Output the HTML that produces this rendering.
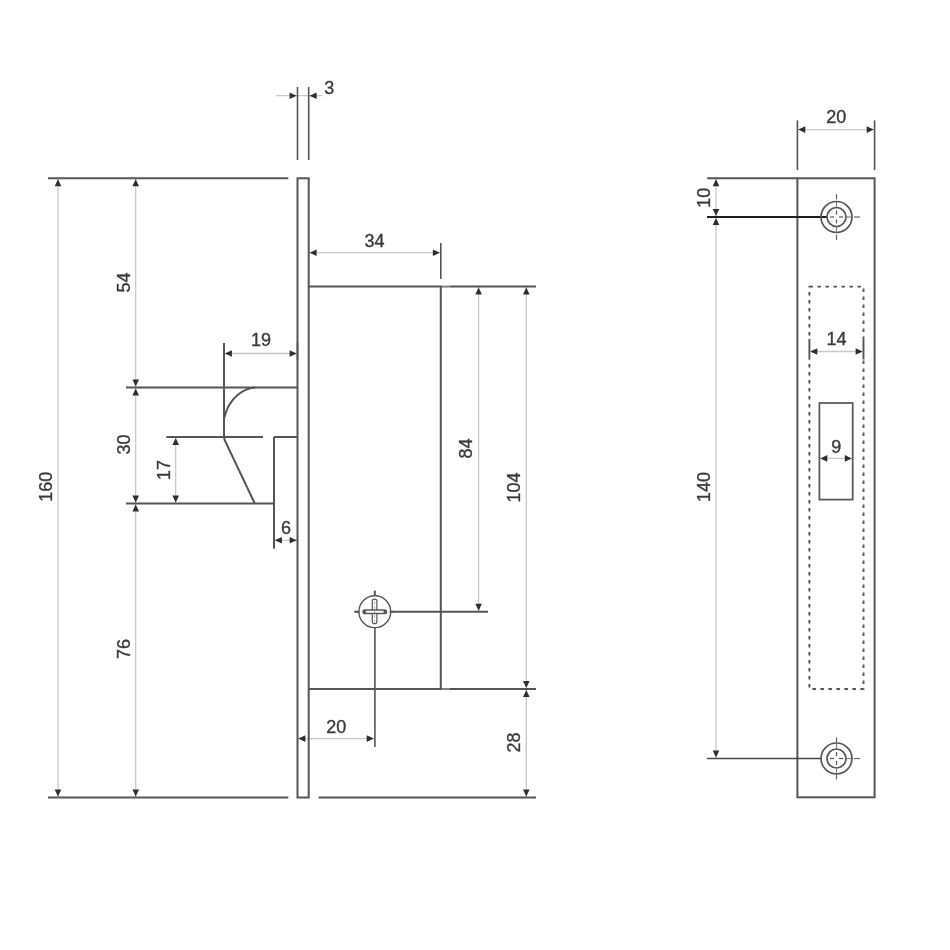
<!DOCTYPE html>
<html><head><meta charset="utf-8"><title>Lock drawing</title>
<style>
html,body{margin:0;padding:0;background:#fff;}
svg{display:block;filter:grayscale(100%);}
text{font-family:"Liberation Sans",sans-serif;fill:#3a3a3a;stroke:#3a3a3a;stroke-width:0.35px;}
</style></head>
<body>
<svg width="950" height="950" viewBox="0 0 950 950">
<rect width="950" height="950" fill="#fff"/>
<line x1="276" y1="95.7" x2="322" y2="95.7" stroke="#c8c8c8" stroke-width="1.3" />
<line x1="58" y1="178.3" x2="58" y2="797.5" stroke="#c8c8c8" stroke-width="1.3" />
<line x1="135.7" y1="178.3" x2="135.7" y2="797.5" stroke="#c8c8c8" stroke-width="1.3" />
<line x1="175.7" y1="437" x2="175.7" y2="503.5" stroke="#c8c8c8" stroke-width="1.3" />
<line x1="224" y1="353.5" x2="297.5" y2="353.5" stroke="#c8c8c8" stroke-width="1.3" />
<line x1="274" y1="540.3" x2="297.5" y2="540.3" stroke="#c8c8c8" stroke-width="1.3" />
<line x1="308.7" y1="252.7" x2="440.8" y2="252.7" stroke="#c8c8c8" stroke-width="1.3" />
<line x1="478.6" y1="286.6" x2="478.6" y2="611.7" stroke="#c8c8c8" stroke-width="1.3" />
<line x1="526.3" y1="286.6" x2="526.3" y2="797.5" stroke="#c8c8c8" stroke-width="1.3" />
<line x1="297.5" y1="738.6" x2="374.6" y2="738.6" stroke="#c8c8c8" stroke-width="1.3" />
<line x1="797.4" y1="129.6" x2="874.6" y2="129.6" stroke="#c8c8c8" stroke-width="1.3" />
<line x1="716" y1="178.3" x2="716" y2="758.5" stroke="#c8c8c8" stroke-width="1.3" />
<line x1="809.4" y1="351.5" x2="863.5" y2="351.5" stroke="#c8c8c8" stroke-width="1.3" />
<line x1="819.4" y1="458.4" x2="852.7" y2="458.4" stroke="#c8c8c8" stroke-width="1.3" />
<line x1="297.5" y1="87" x2="297.5" y2="160" stroke="#555555" stroke-width="1.6" />
<line x1="308.7" y1="87" x2="308.7" y2="160" stroke="#555555" stroke-width="1.6" />
<polygon points="296.60,95.70 289.60,92.40 289.60,99.00" fill="#2e2e2e"/>
<polygon points="309.60,95.70 316.60,92.40 316.60,99.00" fill="#2e2e2e"/>
<text x="329.30" y="94.24" text-anchor="middle" font-size="18.0">3</text>
<rect x="297.5" y="178.3" width="11.199999999999989" height="619.2" fill="none" stroke="#555555" stroke-width="2.0"/>
<line x1="48" y1="178.3" x2="288.3" y2="178.3" stroke="#555555" stroke-width="2.0" />
<line x1="126" y1="387.5" x2="297.5" y2="387.5" stroke="#555555" stroke-width="2.0" />
<line x1="166.3" y1="437" x2="263" y2="437" stroke="#555555" stroke-width="2.0" />
<line x1="274" y1="437" x2="297.5" y2="437" stroke="#555555" stroke-width="2.0" />
<line x1="126" y1="503.5" x2="274" y2="503.5" stroke="#555555" stroke-width="2.0" />
<line x1="48" y1="797.5" x2="288.3" y2="797.5" stroke="#555555" stroke-width="2.0" />
<polygon points="58.00,179.20 54.70,186.20 61.30,186.20" fill="#2e2e2e"/>
<polygon points="58.00,796.60 54.70,789.60 61.30,789.60" fill="#2e2e2e"/>
<text transform="translate(51.94,486.80) rotate(-90)" text-anchor="middle" font-size="18.0">160</text>
<polygon points="135.70,179.20 132.40,186.20 139.00,186.20" fill="#2e2e2e"/>
<polygon points="135.70,386.60 132.40,379.60 139.00,379.60" fill="#2e2e2e"/>
<polygon points="135.70,388.40 132.40,395.40 139.00,395.40" fill="#2e2e2e"/>
<polygon points="135.70,502.60 132.40,495.60 139.00,495.60" fill="#2e2e2e"/>
<polygon points="135.70,504.40 132.40,511.40 139.00,511.40" fill="#2e2e2e"/>
<polygon points="135.70,796.60 132.40,789.60 139.00,789.60" fill="#2e2e2e"/>
<text transform="translate(129.74,282.50) rotate(-90)" text-anchor="middle" font-size="18.0">54</text>
<text transform="translate(129.94,444.50) rotate(-90)" text-anchor="middle" font-size="18.0">30</text>
<text transform="translate(129.84,649.00) rotate(-90)" text-anchor="middle" font-size="18.0">76</text>
<polygon points="175.70,437.90 172.40,444.90 179.00,444.90" fill="#2e2e2e"/>
<polygon points="175.70,502.60 172.40,495.60 179.00,495.60" fill="#2e2e2e"/>
<text transform="translate(170.44,470.00) rotate(-90)" text-anchor="middle" font-size="18.0">17</text>
<line x1="224" y1="343" x2="224" y2="437" stroke="#555555" stroke-width="2.0" />
<path d="M254.8,387.5 C244,388.5 229,397 224.3,418" fill="none" stroke="#555555" stroke-width="2.0"/>
<path d="M224,437 L224.6,440 L254.8,503.5" fill="none" stroke="#555555" stroke-width="2.0"/>
<line x1="274" y1="437" x2="274" y2="548.7" stroke="#555555" stroke-width="2.0" />
<polygon points="224.90,353.50 231.90,350.20 231.90,356.80" fill="#2e2e2e"/>
<polygon points="296.60,353.50 289.60,350.20 289.60,356.80" fill="#2e2e2e"/>
<line x1="297.5" y1="343" x2="297.5" y2="360" stroke="#555555" stroke-width="1.6" />
<text x="261.00" y="346.04" text-anchor="middle" font-size="18.0">19</text>
<polygon points="274.90,540.30 281.90,537.00 281.90,543.60" fill="#2e2e2e"/>
<polygon points="296.60,540.30 289.60,537.00 289.60,543.60" fill="#2e2e2e"/>
<text x="286.00" y="534.44" text-anchor="middle" font-size="18.0">6</text>
<line x1="308.7" y1="286.6" x2="441.8" y2="286.6" stroke="#555555" stroke-width="2.0" />
<line x1="441.8" y1="286.6" x2="449.5" y2="286.6" stroke="#7c7c7c" stroke-width="1.9" />
<line x1="449.5" y1="286.6" x2="536" y2="286.6" stroke="#555555" stroke-width="2.0" />
<line x1="308.7" y1="689" x2="441.8" y2="689" stroke="#555555" stroke-width="2.0" />
<line x1="441.8" y1="689" x2="449.5" y2="689" stroke="#7c7c7c" stroke-width="1.9" />
<line x1="449.5" y1="689" x2="536" y2="689" stroke="#555555" stroke-width="2.0" />
<line x1="440.8" y1="286.6" x2="440.8" y2="689" stroke="#555555" stroke-width="2.0" />
<line x1="440.8" y1="243" x2="440.8" y2="279" stroke="#555555" stroke-width="1.6" />
<polygon points="309.60,252.70 316.60,249.40 316.60,256.00" fill="#2e2e2e"/>
<polygon points="439.90,252.70 432.90,249.40 432.90,256.00" fill="#2e2e2e"/>
<text x="374.50" y="247.44" text-anchor="middle" font-size="18.0">34</text>
<polygon points="478.60,287.50 475.30,294.50 481.90,294.50" fill="#2e2e2e"/>
<polygon points="478.60,610.80 475.30,603.80 481.90,603.80" fill="#2e2e2e"/>
<text transform="translate(472.44,448.50) rotate(-90)" text-anchor="middle" font-size="18.0">84</text>
<polygon points="526.30,287.50 523.00,294.50 529.60,294.50" fill="#2e2e2e"/>
<polygon points="526.30,688.10 523.00,681.10 529.60,681.10" fill="#2e2e2e"/>
<polygon points="526.30,689.90 523.00,696.90 529.60,696.90" fill="#2e2e2e"/>
<polygon points="526.30,796.60 523.00,789.60 529.60,789.60" fill="#2e2e2e"/>
<text transform="translate(519.84,487.40) rotate(-90)" text-anchor="middle" font-size="18.0">104</text>
<text transform="translate(520.44,742.50) rotate(-90)" text-anchor="middle" font-size="18.0">28</text>
<line x1="318.6" y1="797.5" x2="536" y2="797.5" stroke="#555555" stroke-width="2.0" />
<line x1="354.5" y1="611.7" x2="488" y2="611.7" stroke="#555555" stroke-width="2.0" />
<line x1="374.90000000000003" y1="590.7" x2="374.90000000000003" y2="747" stroke="#555555" stroke-width="1.6" />
<circle cx="374.8" cy="611.7" r="15.9" fill="#fff" stroke="#555555" stroke-width="1.4"/>
<rect x="372.3" y="599.1" width="4.6" height="24.6" rx="2.2" fill="#fff" stroke="#555555" stroke-width="1.2"/>
<rect x="363.1" y="609.9000000000001" width="23.4" height="3.6" rx="1.8" fill="#fff" stroke="#555555" stroke-width="1.5"/>
<circle cx="364.8" cy="611.7" r="1.4" fill="#555555"/>
<circle cx="384.8" cy="611.7" r="1.4" fill="#555555"/>
<line x1="374.6" y1="601.7" x2="374.6" y2="621.7" stroke="#888" stroke-width="0.7" stroke-dasharray="2.5 2"/>
<line x1="354.6" y1="611.7" x2="359.6" y2="611.7" stroke="#555555" stroke-width="1.6" />
<line x1="389.6" y1="611.7" x2="394.6" y2="611.7" stroke="#555555" stroke-width="1.6" />
<line x1="374.6" y1="590.7" x2="374.6" y2="596" stroke="#555555" stroke-width="1.6" />
<polygon points="298.40,738.60 305.40,735.30 305.40,741.90" fill="#2e2e2e"/>
<polygon points="373.70,738.60 366.70,735.30 366.70,741.90" fill="#2e2e2e"/>
<text x="336.20" y="732.84" text-anchor="middle" font-size="18.0">20</text>
<rect x="797.4" y="178.3" width="77.20000000000005" height="619.0" fill="none" stroke="#555555" stroke-width="2.0"/>
<line x1="707.3" y1="178.3" x2="797.4" y2="178.3" stroke="#555555" stroke-width="2.0" />
<line x1="797.4" y1="120.4" x2="797.4" y2="170" stroke="#555555" stroke-width="1.6" />
<line x1="874.6" y1="120.4" x2="874.6" y2="170" stroke="#555555" stroke-width="1.6" />
<polygon points="798.30,129.60 805.30,126.30 805.30,132.90" fill="#2e2e2e"/>
<polygon points="873.70,129.60 866.70,126.30 866.70,132.90" fill="#2e2e2e"/>
<text x="836.30" y="123.24" text-anchor="middle" font-size="18.0">20</text>
<line x1="707" y1="217" x2="827.0" y2="217" stroke="#1e1e1e" stroke-width="2.0" />
<circle cx="836.5" cy="217" r="15.5" fill="none" stroke="#555555" stroke-width="1.7"/>
<circle cx="836.5" cy="217" r="9.5" fill="none" stroke="#555555" stroke-width="1.7"/>
<line x1="830.0" y1="217" x2="834.0" y2="217" stroke="#555555" stroke-width="1.2" />
<line x1="839.0" y1="217" x2="843.0" y2="217" stroke="#555555" stroke-width="1.2" />
<line x1="836.5" y1="210.5" x2="836.5" y2="214.5" stroke="#555555" stroke-width="1.2" />
<line x1="836.5" y1="219.5" x2="836.5" y2="223.5" stroke="#555555" stroke-width="1.2" />
<line x1="854.0" y1="217" x2="860.0" y2="217" stroke="#666" stroke-width="1.2" />
<line x1="846.5" y1="217" x2="851.5" y2="217" stroke="#777" stroke-width="1.1" />
<line x1="836.5" y1="202" x2="836.5" y2="207" stroke="#777" stroke-width="1.1" />
<line x1="836.5" y1="227" x2="836.5" y2="232" stroke="#777" stroke-width="1.1" />
<line x1="836.5" y1="194" x2="836.5" y2="199.5" stroke="#666" stroke-width="1.2" />
<line x1="836.5" y1="234.5" x2="836.5" y2="240" stroke="#666" stroke-width="1.2" />
<line x1="707" y1="758.5" x2="821.0" y2="758.5" stroke="#4a4a4a" stroke-width="1.7" />
<circle cx="836.5" cy="758.5" r="15.5" fill="none" stroke="#555555" stroke-width="1.7"/>
<circle cx="836.5" cy="758.5" r="9.5" fill="none" stroke="#555555" stroke-width="1.7"/>
<line x1="830.0" y1="758.5" x2="834.0" y2="758.5" stroke="#555555" stroke-width="1.2" />
<line x1="839.0" y1="758.5" x2="843.0" y2="758.5" stroke="#555555" stroke-width="1.2" />
<line x1="836.5" y1="752.0" x2="836.5" y2="756.0" stroke="#555555" stroke-width="1.2" />
<line x1="836.5" y1="761.0" x2="836.5" y2="765.0" stroke="#555555" stroke-width="1.2" />
<line x1="854.0" y1="758.5" x2="860.0" y2="758.5" stroke="#666" stroke-width="1.2" />
<line x1="846.5" y1="758.5" x2="851.5" y2="758.5" stroke="#777" stroke-width="1.1" />
<line x1="836.5" y1="743.5" x2="836.5" y2="748.5" stroke="#777" stroke-width="1.1" />
<line x1="836.5" y1="768.5" x2="836.5" y2="773.5" stroke="#777" stroke-width="1.1" />
<line x1="836.5" y1="737.5" x2="836.5" y2="742.5" stroke="#666" stroke-width="1.2" />
<line x1="836.5" y1="774.5" x2="836.5" y2="779.5" stroke="#666" stroke-width="1.2" />
<polygon points="716.00,179.20 712.70,186.20 719.30,186.20" fill="#2e2e2e"/>
<polygon points="716.00,216.10 712.70,209.10 719.30,209.10" fill="#2e2e2e"/>
<polygon points="716.00,217.90 712.70,224.90 719.30,224.90" fill="#2e2e2e"/>
<polygon points="716.00,757.60 712.70,750.60 719.30,750.60" fill="#2e2e2e"/>
<text transform="translate(710.44,197.80) rotate(-90)" text-anchor="middle" font-size="18.0">10</text>
<text transform="translate(710.14,487.00) rotate(-90)" text-anchor="middle" font-size="18.0">140</text>
<rect x="809.4" y="286.6" width="54.10000000000002" height="402.4" fill="none" stroke="#555555" stroke-width="1.9" stroke-dasharray="3.6 4.4"/>
<line x1="809.4" y1="339" x2="809.4" y2="359.5" stroke="#fff" stroke-width="3" />
<line x1="863.5" y1="339" x2="863.5" y2="359.5" stroke="#fff" stroke-width="3" />
<line x1="809.4" y1="339" x2="809.4" y2="359.5" stroke="#555555" stroke-width="1.9000000000000001" />
<line x1="863.5" y1="339" x2="863.5" y2="359.5" stroke="#555555" stroke-width="1.9000000000000001" />
<polygon points="810.30,351.50 817.30,348.20 817.30,354.80" fill="#2e2e2e"/>
<polygon points="862.60,351.50 855.60,348.20 855.60,354.80" fill="#2e2e2e"/>
<text x="836.50" y="344.84" text-anchor="middle" font-size="18.0">14</text>
<rect x="819.4" y="403" width="33.3" height="96.6" fill="none" stroke="#555555" stroke-width="1.7"/>
<polygon points="820.30,458.40 827.30,455.10 827.30,461.70" fill="#2e2e2e"/>
<polygon points="851.80,458.40 844.80,455.10 844.80,461.70" fill="#2e2e2e"/>
<text x="836.20" y="452.74" text-anchor="middle" font-size="18.0">9</text>
</svg>
</body></html>
